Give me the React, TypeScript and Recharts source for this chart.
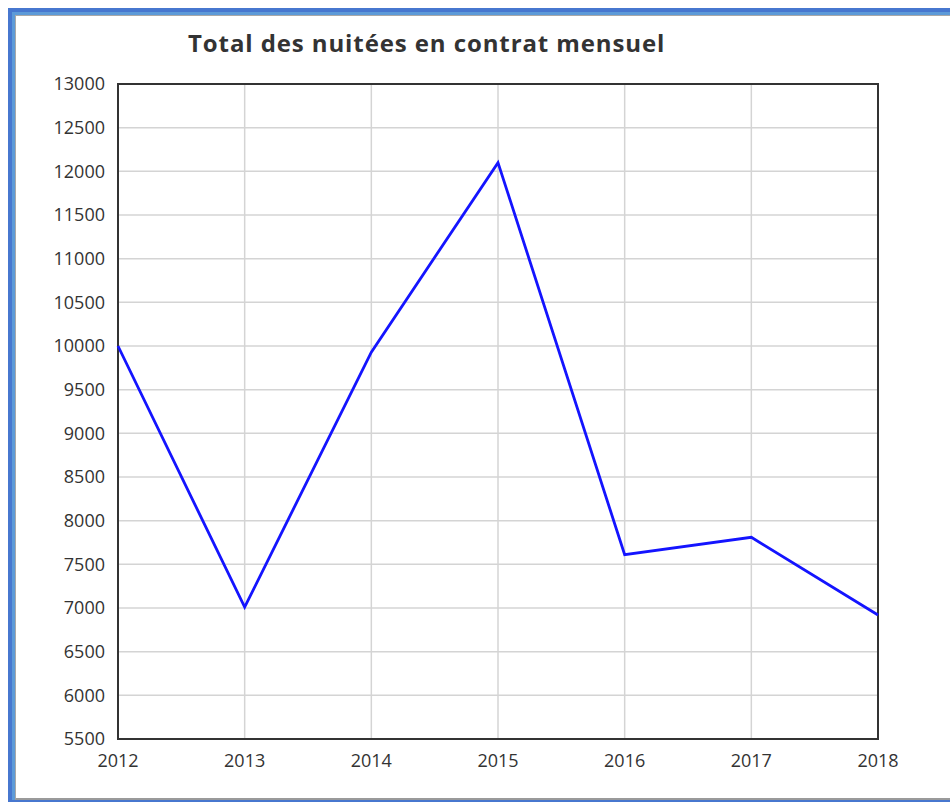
import React from "react";
import {
  LineChart,
  Line,
  XAxis,
  YAxis,
  CartesianGrid,
  ReferenceArea,
} from "recharts";

const years = [2012, 2013, 2014, 2015, 2016, 2017, 2018];
const nuitees = [10000, 7010, 9930, 12100, 7610, 7810, 6920];
const yTicks = [
  5500, 6000, 6500, 7000, 7500, 8000, 8500, 9000, 9500, 10000, 10500, 11000,
  11500, 12000, 12500, 13000,
];

const data = years.map((year, i) => ({ year, nuitees: nuitees[i] }));

const font = "'Open Sans', 'Noto Sans', sans-serif";
const tickStyle = { fontSize: 18, fill: "#333", fontFamily: font };

export default function App() {
  return (
    <div style={{ position: "absolute", left: 0, top: 0, width: 950, height: 802, overflow: "hidden", background: "#fff" }}>
      {/* window frame */}
      <div
        style={{
          position: "absolute",
          left: 8,
          top: 8,
          width: 960,
          height: 794,
          boxSizing: "border-box",
          borderTop: "4px solid #4777cf",
          borderLeft: "4px solid #4777cf",
          borderBottom: "2px solid #4777cf",
        }}
      >
        <div
          style={{
            width: "100%",
            height: "100%",
            boxSizing: "border-box",
            borderTop: "3px solid #5d9ad8",
            borderLeft: "3px solid #5d9ad8",
          }}
        >
          <div
            style={{
              width: "100%",
              height: "100%",
              boxSizing: "border-box",
              borderTop: "1px solid #a8a8a8",
              borderLeft: "1px solid #a8a8a8",
              borderBottom: "2px solid #9a9a9a",
            }}
          />
        </div>
      </div>

      <div
        style={{
          position: "absolute",
          left: 188,
          top: 31,
          fontFamily: font,
          fontSize: 24,
          lineHeight: "24px",
          fontWeight: 700,
          letterSpacing: 0.9,
          color: "#333",
          whiteSpace: "nowrap",
        }}
      >
        Total des nuitées en contrat mensuel
      </div>

      <div style={{ position: "absolute", left: 0, top: 0 }}>
        <LineChart
          width={950}
          height={802}
          data={data}
          margin={{ top: 84, right: 72, left: 8, bottom: 33 }}
        >
          <CartesianGrid stroke="#d4d4d4" strokeWidth={1.5} />
          <XAxis
            dataKey="year"
            type="number"
            domain={[2012, 2018]}
            ticks={years}
            allowDecimals={false}
            axisLine={false}
            tickLine={false}
            tickSize={0}
            tickMargin={15}
            height={30}
            tick={tickStyle}
            interval={0}
          />
          <YAxis
            type="number"
            domain={[5500, 13000]}
            ticks={yTicks}
            axisLine={false}
            tickLine={false}
            tickSize={0}
            tickMargin={13}
            width={110}
            tick={tickStyle}
            interval={0}
          />
          <ReferenceArea
            x1={2012}
            x2={2018}
            y1={5500}
            y2={13000}
            fill="none"
            stroke="#333"
            strokeWidth={2}
            ifOverflow="visible"
          />
          <Line
            type="linear"
            dataKey="nuitees"
            stroke="#1414ff"
            strokeWidth={2.8}
            dot={false}
            activeDot={false}
            isAnimationActive={false}
          />
        </LineChart>
      </div>
    </div>
  );
}
